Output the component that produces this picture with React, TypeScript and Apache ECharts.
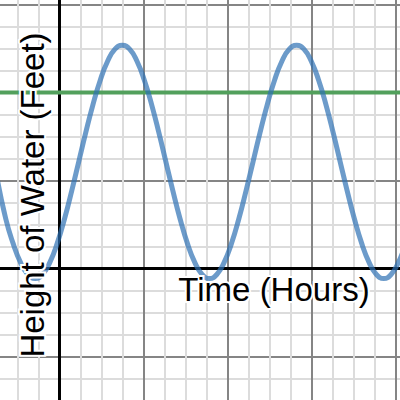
import React, { useEffect, useRef } from "react";
import * as echarts from "echarts";

const timeHours = [
  -3.0, -2.55, -2.2, -1.85, -1.5, -1.15, -0.8, -0.45, -0.1, 0.25, 0.6, 0.925,
  1.25, 1.6, 1.95, 2.3, 2.65, 3.0, 3.35, 3.7, 4.05, 4.4, 4.75, 5.075, 5.4, 5.75,
  6.1, 6.45, 6.8, 7.15, 7.5, 7.85, 8.2, 8.55, 8.9, 9.225, 9.55, 9.9, 10.25,
  10.6, 10.95, 11.3, 11.65, 12.0, 12.35, 12.7, 13.05, 13.375, 13.7, 14.05, 14.4,
  14.75, 15.1, 15.45, 15.8, 16.15, 16.5, 16.85,
];
const heightFeet = [
  4.3, 2.26, 1.14, 0.28, -0.27, -0.45, -0.27, 0.28, 1.14, 2.26, 3.56, 4.85,
  6.14, 7.44, 8.56, 9.42, 9.97, 10.15, 9.97, 9.42, 8.56, 7.44, 6.14, 4.85, 3.56,
  2.26, 1.14, 0.28, -0.27, -0.45, -0.27, 0.28, 1.14, 2.26, 3.56, 4.85, 6.14,
  7.44, 8.56, 9.42, 9.97, 10.15, 9.97, 9.42, 8.56, 7.44, 6.14, 4.85, 3.56, 2.26,
  1.14, 0.28, -0.27, -0.45, -0.27, 0.28, 1.14, 2.26,
];
const thresholdFeet = 8;
const xRange = [-4, 20];
const yRange = [-8, 16];
const xAxisTitle = "Time (Hours)";
const yAxisTitle = "Height of Water (Feet)";

export default function App() {
  const ref = useRef<HTMLDivElement>(null);
  useEffect(() => {
    if (!ref.current) return;
    const chart = echarts.init(ref.current, undefined, { renderer: "svg" });
    const curve = timeHours.map((t, i) => [t, heightFeet[i]]);
    const level = [
      [xRange[0], thresholdFeet],
      [xRange[1], thresholdFeet],
    ];
    const font = '33px "Liberation Sans", Arial, sans-serif';
    chart.setOption({
      animation: false,
      backgroundColor: "#ffffff",
      grid: {
        left: -24.7,
        right: -79.3,
        top: -83.5,
        bottom: -44.5,
        containLabel: false,
        outerBoundsMode: "none",
      },
      xAxis: {
        type: "value",
        min: xRange[0],
        max: xRange[1],
        interval: 4,
        axisLabel: { show: false },
        axisTick: { show: false },
        axisLine: { show: true, onZero: true, lineStyle: { color: "#000", width: 3 } },
        splitLine: { show: true, lineStyle: { color: "#858585", width: 2 } },
        minorTick: { show: false, splitNumber: 4 },
        minorSplitLine: { show: true, lineStyle: { color: "#dcdcdc", width: 2 } },
      },
      yAxis: {
        type: "value",
        min: yRange[0],
        max: yRange[1],
        interval: 4,
        axisLabel: { show: false },
        axisTick: { show: false },
        axisLine: { show: true, onZero: true, lineStyle: { color: "#000", width: 3 } },
        splitLine: { show: true, lineStyle: { color: "#858585", width: 2 } },
        minorTick: { show: false, splitNumber: 4 },
        minorSplitLine: { show: true, lineStyle: { color: "#dcdcdc", width: 2 } },
      },
      series: [
        {
          type: "line",
          data: level,
          showSymbol: false,
          silent: true,
          lineStyle: { color: "#52a05c", width: 4 },
          z: 3,
        },
        {
          type: "line",
          data: curve,
          smooth: true,
          showSymbol: false,
          silent: true,
          lineStyle: { color: "rgba(45,112,179,0.7)", width: 5 },
          z: 4,
        },
      ],
      graphic: [
        {
          type: "text",
          z: 100,
          x: 274,
          y: 289,
          style: {
            text: xAxisTitle,
            font,
            fill: "#000",
            stroke: "#fff",
            lineWidth: 4,
            textAlign: "center",
            textVerticalAlign: "middle",
          },
        },
        {
          type: "text",
          z: 100,
          x: 32,
          y: 195,
          rotation: Math.PI / 2,
          style: {
            text: yAxisTitle,
            font,
            fill: "#000",
            stroke: "#fff",
            lineWidth: 4,
            textAlign: "center",
            textVerticalAlign: "middle",
          },
        },
      ],
    });
    return () => chart.dispose();
  }, []);
  return (
    <div
      ref={ref}
      style={{ position: "fixed", left: 0, top: 0, width: 400, height: 400 }}
    />
  );
}
